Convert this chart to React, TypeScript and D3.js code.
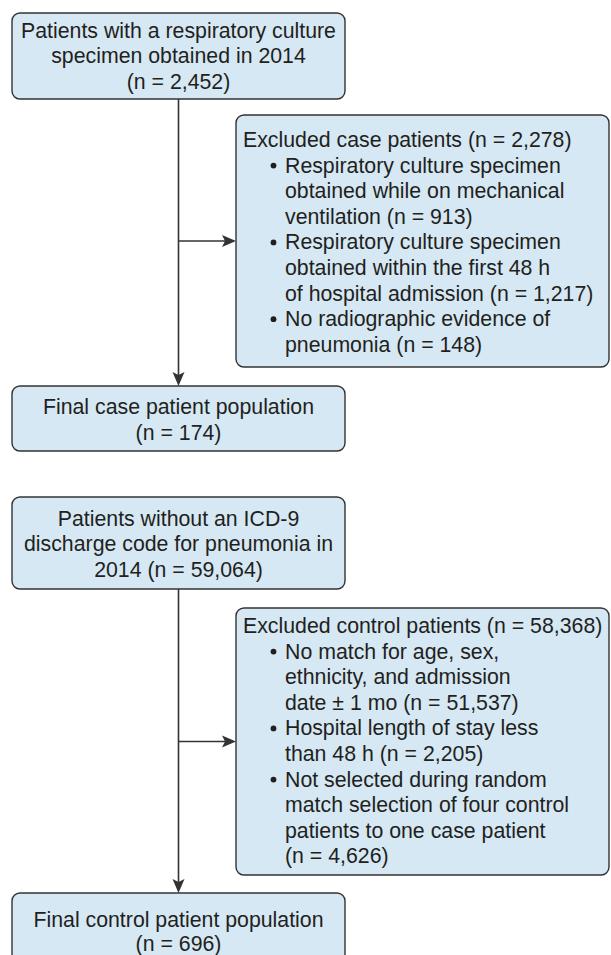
import React from 'react'
import { scaleLinear, line } from 'd3'

// box texts, top to bottom
const caseSource = ['Patients with a respiratory culture', 'specimen obtained in 2014', '(n = 2,452)']
const caseExclHeader = 'Excluded case patients (n = 2,278)'
const caseExclBullets = [
  ['Respiratory culture specimen', 'obtained while on mechanical', 'ventilation (n = 913)'],
  ['Respiratory culture specimen', 'obtained within the first 48 h', 'of hospital admission (n = 1,217)'],
  ['No radiographic evidence of', 'pneumonia (n = 148)'],
]
const caseFinal = ['Final case patient population', '(n = 174)']

const ctrlSource = ['Patients without an ICD-9', 'discharge code for pneumonia in', '2014 (n = 59,064)']
const ctrlExclHeader = 'Excluded control patients (n = 58,368)'
const ctrlExclBullets = [
  ['No match for age, sex,', 'ethnicity, and admission', 'date ± 1 mo (n = 51,537)'],
  ['Hospital length of stay less', 'than 48 h (n = 2,205)'],
  ['Not selected during random', 'match selection of four control', 'patients to one case patient', '(n = 4,626)'],
]
const ctrlFinal = ['Final control patient population', '(n = 696)']

const FILL = '#d5e8f4'
const STROKE = '#333333'
const INK = '#231f20'
const FONT = '"Liberation Sans", Arial, Helvetica, sans-serif'
const FS = 21.3
const LH = 25.6

const leftX0 = 12, leftX1 = 345
const rightX0 = 236, rightX1 = 609
const spineX = (leftX0 + leftX1) / 2

// line n -> baseline y, starting at a given first baseline
const rows = (first: number, lh = LH) => scaleLinear().domain([0, 1]).range([first, first + lh])

const Box = ({ x0, x1, y0, y1 }: { x0: number; x1: number; y0: number; y1: number }) => (
  <rect x={x0} y={y0} width={x1 - x0} height={y1 - y0} rx={8} ry={8}
    fill={FILL} stroke={STROKE} strokeWidth={1.4} />
)

const Centered = ({ lines, first, lh }: { lines: string[]; first: number; lh?: number }) => {
  const y = rows(first, lh)
  return (
    <>
      {lines.map((t, i) => (
        <text key={i} x={spineX} y={y(i)} textAnchor="middle">{t}</text>
      ))}
    </>
  )
}

const Excluded = ({ header, bullets, first }: { header: string; bullets: string[][]; first: number }) => {
  const y = rows(first)
  let k = 1
  const out: JSX.Element[] = [<text key="h" x={rightX0 + 7} y={y(0)}>{header}</text>]
  bullets.forEach((b, bi) => {
    out.push(<circle key={'d' + bi} cx={rightX0 + 37.5} cy={y(k) - 7} r={2.9} fill={INK} />)
    b.forEach((t, li) => {
      out.push(<text key={bi + '-' + li} x={rightX0 + 49} y={y(k)}>{t}</text>)
      k++
    })
  })
  return <>{out}</>
}

const Arrow = ({ pts }: { pts: [number, number][] }) => {
  const [a, b] = pts
  const ang = Math.atan2(b[1] - a[1], b[0] - a[0])
  const L = 14, W = 6, notch = 3
  const ux = Math.cos(ang), uy = Math.sin(ang)
  const px = -uy, py = ux
  const head = `M${b[0]},${b[1]} L${b[0] - ux * L + px * W},${b[1] - uy * L + py * W} L${b[0] - ux * (L - notch)},${b[1] - uy * (L - notch)} L${b[0] - ux * L - px * W},${b[1] - uy * L - py * W} Z`
  const shaft = line()([a, [b[0] - ux * 8, b[1] - uy * 8]])
  return (
    <g>
      <path d={shaft || ''} stroke={STROKE} strokeWidth={1.6} fill="none" />
      <path d={head} fill={STROKE} />
    </g>
  )
}

export default function App() {
  const b1 = { x0: leftX0, x1: leftX1, y0: 13, y1: 99 }
  const b2 = { x0: rightX0, x1: rightX1, y0: 115, y1: 367 }
  const b3 = { x0: leftX0, x1: leftX1, y0: 386, y1: 451 }
  const b4 = { x0: leftX0, x1: leftX1, y0: 497, y1: 589 }
  const b5 = { x0: rightX0, x1: rightX1, y0: 608, y1: 875 }
  const b6 = { x0: leftX0, x1: leftX1, y0: 893, y1: 962 }
  const mid = (b: { y0: number; y1: number }) => (b.y0 + b.y1) / 2
  return (
    <svg width={611} height={955} style={{ position: 'absolute', left: 0, top: 0 }}
      fontFamily={FONT} fontSize={FS} fill={INK}>
      <rect width={611} height={955} fill="#fff" />
      <Arrow pts={[[spineX, b1.y1], [spineX, b3.y0]]} />
      <Arrow pts={[[spineX, mid(b2)], [rightX0, mid(b2)]]} />
      <Arrow pts={[[spineX, b4.y1], [spineX, b6.y0]]} />
      <Arrow pts={[[spineX, mid(b5)], [rightX0, mid(b5)]]} />
      <Box {...b1} />
      <Box {...b2} />
      <Box {...b3} />
      <Box {...b4} />
      <Box {...b5} />
      <Box {...b6} />
      <Centered lines={caseSource} first={37.5} />
      <Excluded header={caseExclHeader} bullets={caseExclBullets} first={147} />
      <Centered lines={caseFinal} first={414} />
      <Centered lines={ctrlSource} first={525.5} />
      <Excluded header={ctrlExclHeader} bullets={ctrlExclBullets} first={633} />
      <Centered lines={ctrlFinal} first={927} lh={23.5} />
    </svg>
  )
}
